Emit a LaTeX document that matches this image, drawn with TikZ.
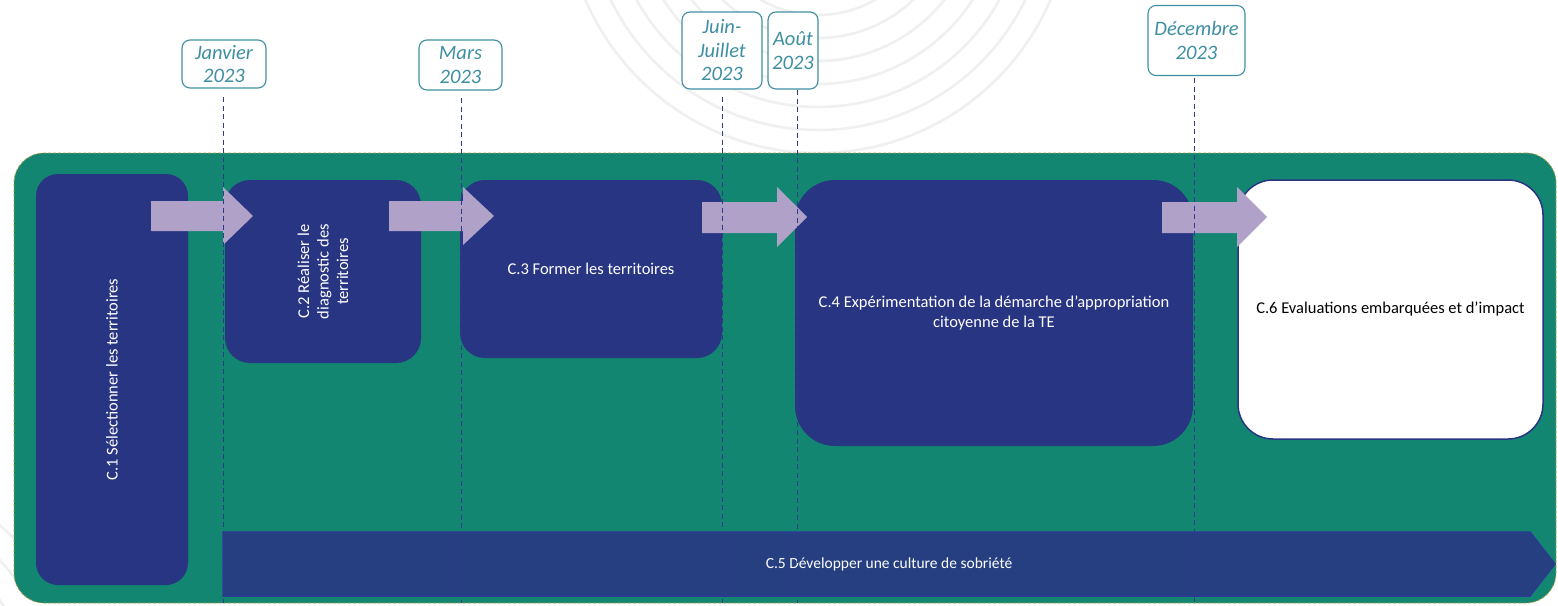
\documentclass[tikz,border=0pt]{standalone}
\usepackage{fontspec}
\setmainfont{Carlito}
\usetikzlibrary{calc}
\definecolor{bggreen}{HTML}{128670}
\definecolor{dblue}{HTML}{283583}
\definecolor{cfive}{HTML}{253F80}
\definecolor{cfiveb}{HTML}{2B3A92}
\definecolor{lav}{HTML}{B0A1C9}
\definecolor{teal}{HTML}{3E8FA2}
\definecolor{dashblue}{HTML}{2E3A8C}
\definecolor{ring}{HTML}{F0F0F0}
\definecolor{olive}{HTML}{A4A046}
\begin{document}
\begin{tikzpicture}[x=1pt,y=-1pt,
  box/.style={fill=dblue, draw=none, inner sep=0pt},
  txt/.style={text=white, font=\fontsize{16.5}{19.5}\selectfont, align=center},
  datebox/.style={draw=teal, line width=1.1pt, fill=white, rounded corners=8pt, inner sep=0pt,
    text=teal, font=\fontsize{20.5}{23.5}\selectfont\itshape, align=center},
  tick/.style={draw=dashblue, line width=1pt, dash pattern=on 5pt off 3.5pt},
  lavarrow/.style={fill=lav, draw=none}]
\useasboundingbox (0,0) rectangle (1558,605);
\fill[white] (0,0) rectangle (1558,605);
% decorative rings
\begin{scope}
\clip (0,0) rectangle (1558,153);
\foreach \r in {115,138,161,184,207,230,253}
  \draw[ring, line width=2.6pt] (818,-100) circle[radius=\r];
\end{scope}
\begin{scope}
\clip (0,400) rectangle (20,605);
\foreach \r in {180,205,230}
  \draw[ring, line width=2.6pt] (-150,700) circle[radius=\r];
\end{scope}
% green panel
\node[fill=bggreen, draw=olive, line width=0.8pt, dash pattern=on 3pt off 2pt, rounded corners=30pt,
  minimum width=1542pt, minimum height=450pt, inner sep=0pt] (panel) at (785,378) {};
% boxes
\node[box, rounded corners=22pt, minimum width=152pt, minimum height=411pt] (c1) at (112,379.5) {};
\node[txt, rotate=90] (t1) at (c1.center) {C.1 Sélectionner les territoires};
\node[box, rounded corners=25pt, minimum width=196pt, minimum height=183pt] (c2) at (323,271.5) {};
\node[txt, rotate=90] (t2) at (c2.center) {C.2 Réaliser le\\diagnostic des\\territoires};
\node[box, rounded corners=25pt, minimum width=262pt, minimum height=178pt] (c3) at (591,269) {};
\node[txt] (t3) at (c3.center) {C.3 Former les territoires};
\node[box, rounded corners=40pt, minimum width=398pt, minimum height=266pt] (c4) at (994,313) {};
\node[txt] (t4) at (c4.center) {C.4 Expérimentation de la démarche d’appropriation\\citoyenne de la TE};
\node[fill=white, draw=dblue, line width=1.5pt, rounded corners=35pt, inner sep=0pt,
  minimum width=305pt, minimum height=259pt] (c6) at (1390.5,309.5) {};
\node[txt, text=black] (t6) at (c6.center) {C.6 Evaluations embarquées et d’impact};
% C5 arrow
\draw[fill=cfive, draw=cfiveb, line width=1.5pt] (223,532) -- (1530,532) -- (1555,564) -- (1530,596) -- (223,596) -- cycle;
\coordinate (c5c) at (889,564);
\node[txt, font=\fontsize{15.5}{18}\selectfont] (t5) at (c5c) {C.5 Développer une culture de sobriété};
% lavender arrows
\fill[lavarrow] (151,201) -- (223,201) -- (223,187) -- (253,216) -- (223,245) -- (223,231) -- (151,231) -- cycle;
\fill[lavarrow] (389,201) -- (463,201) -- (463,187) -- (494,216) -- (463,245) -- (463,231) -- (389,231) -- cycle;
\fill[lavarrow] (702,202) -- (777,202) -- (777,187) -- (807,217) -- (777,247) -- (777,233) -- (702,233) -- cycle;
\fill[lavarrow] (1162,202) -- (1237,202) -- (1237,187) -- (1267,217) -- (1237,247) -- (1237,233) -- (1162,233) -- cycle;
% date boxes
\node[datebox, minimum width=84pt, minimum height=48pt] (d1) at (224,64) {Janvier\\2023};
\node[datebox, minimum width=83pt, minimum height=50pt] (d2) at (460.5,65) {Mars\\2023};
\node[datebox, minimum width=80pt, minimum height=77pt] (d3) at (722,50.5) {Juin-\\Juillet\\2023};
\node[datebox, minimum width=50pt, minimum height=77pt] (d4) at (793,50.5) {Août\\2023};
\node[datebox, minimum width=97pt, minimum height=70pt] (d5) at (1196.5,40.5) {Décembre\\2023};
% tick lines
\coordinate (e1) at (223,603);
\coordinate (e2) at (461,603);
\coordinate (e3) at (722,603);
\coordinate (e4) at (797,603);
\coordinate (e5) at (1194,603);
\draw[tick] (223,97) -- (e1);
\draw[tick] (461,98) -- (e2);
\draw[tick] (722,97) -- (e3);
\draw[tick] (797,90) -- (e4);
\draw[tick] (1194,78) -- (e5);
\end{tikzpicture}
\end{document}
